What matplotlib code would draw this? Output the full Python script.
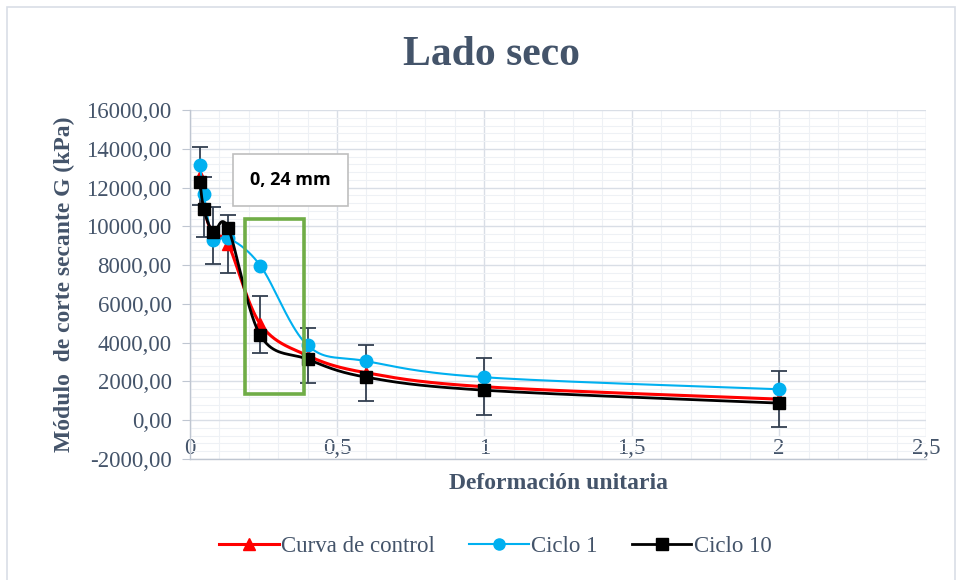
import matplotlib
matplotlib.use('Agg')
import matplotlib.pyplot as plt
import matplotlib.patches as mpatches
from matplotlib.ticker import MultipleLocator, FuncFormatter
import numpy as np

# data
x_def = [0.035, 0.048, 0.08, 0.13, 0.24, 0.40, 0.60, 1.0, 2.0]
g_control = [12600, 11000, 9550, 9100, 4950, 3330, 2440, 1720, 1080]
err_control = [1500, 1550, 1470, 1500, 1470, 1440, 1460, 1460, 1440]
g_ciclo1 = [13150, 11680, 9310, 9410, 7970, 3860, 3040, 2210, 1590]
g_ciclo10 = [12290, 10900, 9720, 9930, 4370, 3140, 2210, 1540, 875]

TXT = '#44546A'
SERIF = 'Liberation Serif'


def smooth(xs, ys, n=40):
    # Excel-like smoothed line (Catmull-Rom bezier)
    xs = np.asarray(xs, float); ys = np.asarray(ys, float)
    px, py = [], []
    m = len(xs)
    for i in range(m - 1):
        x0, y0 = (xs[i - 1], ys[i - 1]) if i > 0 else (xs[i], ys[i])
        x3, y3 = (xs[i + 2], ys[i + 2]) if i + 2 < m else (xs[i + 1], ys[i + 1])
        c1x = xs[i] + (xs[i + 1] - x0) / 6; c1y = ys[i] + (ys[i + 1] - y0) / 6
        c2x = xs[i + 1] - (x3 - xs[i]) / 6; c2y = ys[i + 1] - (y3 - ys[i]) / 6
        t = np.linspace(0, 1, n)
        bx = (1-t)**3*xs[i] + 3*(1-t)**2*t*c1x + 3*(1-t)*t**2*c2x + t**3*xs[i+1]
        by = (1-t)**3*ys[i] + 3*(1-t)**2*t*c1y + 3*(1-t)*t**2*c2y + t**3*ys[i+1]
        px.extend(bx); py.extend(by)
    return px, py


fig = plt.figure(figsize=(9.58, 5.80), dpi=100)
fig.patches.append(mpatches.Rectangle((0.007, -0.01), 0.99, 0.998, transform=fig.transFigure,
                                      fill=False, edgecolor='#D9DEE6', linewidth=1.2))
ax = fig.add_axes([0.198, 0.209, 0.769, 0.601])

ax.set_xlim(0, 2.5)
ax.set_ylim(-2000, 16000)
ax.xaxis.set_major_locator(MultipleLocator(0.5))
ax.xaxis.set_minor_locator(MultipleLocator(0.1))
ax.yaxis.set_major_locator(MultipleLocator(2000))
ax.yaxis.set_minor_locator(MultipleLocator(400))
ax.grid(which='major', color='#D9DEE6', linewidth=1.0, zorder=0)
ax.grid(which='minor', color='#EEF1F5', linewidth=0.8, zorder=0)
ax.set_axisbelow(True)

ax.xaxis.set_major_formatter(FuncFormatter(lambda v, p: ('%g' % v).replace('.', ',')))
ax.yaxis.set_major_formatter(FuncFormatter(lambda v, p: ('%.2f' % v).replace('.', ',')))

for s in ['top', 'right']:
    ax.spines[s].set_visible(False)
for s in ['left', 'bottom']:
    ax.spines[s].set_color('#BFC6D1')
    ax.spines[s].set_linewidth(1.0)

ax.tick_params(axis='y', which='major', length=6, color='#BFC6D1', labelsize=16.5, labelcolor=TXT, pad=7)
ax.tick_params(axis='y', which='minor', length=0)
ax.tick_params(axis='x', which='both', length=0, labelsize=16.5, labelcolor=TXT, pad=-15)
for lbl in ax.get_xticklabels() + ax.get_yticklabels():
    lbl.set_fontfamily(SERIF)
for lbl in ax.get_xticklabels():
    lbl.set_bbox(dict(facecolor='white', edgecolor='none', pad=0.5))

# series
sx, sy = smooth(x_def, g_control)
ax.plot(sx, sy, color='#FF0000', lw=2.2, zorder=3)
ax.errorbar(x_def, g_control, yerr=err_control, fmt='none', ecolor='#333F50', elinewidth=1.3,
            capsize=6, capthick=1.3, zorder=3.5)
ax.plot(x_def, g_control, '^', color='#FF0000', ms=8, zorder=3.6)

sx, sy = smooth(x_def, g_ciclo1)
ax.plot(sx, sy, color='#00B0F0', lw=1.5, zorder=4)
ax.plot(x_def, g_ciclo1, 'o', color='#00B0F0', ms=9, zorder=4.1)

sx, sy = smooth(x_def, g_ciclo10)
ax.plot(sx, sy, color='#000000', lw=2.0, zorder=5)
ax.plot(x_def, g_ciclo10, 's', color='#000000', ms=9, zorder=5.1)

# highlight box
ax.add_patch(mpatches.Rectangle((0.187, 1340), 0.200, 9050, fill=False, edgecolor='#70AD47',
                                linewidth=2.6, zorder=6))
ax.text(0.343, 12400, '0, 24 mm', ha='center', va='center', fontsize=13, fontweight='bold',
        family='Open Sans', color='black', zorder=7,
        bbox=dict(boxstyle='square,pad=0.95', facecolor='white', edgecolor='#BFBFBF', linewidth=1.2))

ax.set_xlabel('Deformación unitaria', fontsize=17, fontweight='bold', family=SERIF, color=TXT, labelpad=10)
ax.set_ylabel('Módulo  de corte secante G (kPa)', fontsize=17, fontweight='bold', family=SERIF,
              color=TXT, labelpad=8)
fig.text(0.513, 0.905, 'Lado seco', ha='center', va='center', fontsize=30, fontweight='bold',
         family=SERIF, color=TXT)

handles = [
    plt.Line2D([], [], color='#FF0000', lw=2.2, marker='^', ms=8),
    plt.Line2D([], [], color='#00B0F0', lw=1.5, marker='o', ms=8),
    plt.Line2D([], [], color='#000000', lw=2.0, marker='s', ms=8),
]
leg = fig.legend(handles, ['Curva de control', 'Ciclo 1', 'Ciclo 10'], loc='center',
                 bbox_to_anchor=(0.517, 0.057), ncol=3, frameon=False, handlelength=2.6,
                 handletextpad=0.1, columnspacing=1.5, prop={'family': SERIF, 'size': 16.5})
for t in leg.get_texts():
    t.set_color(TXT)

fig.savefig('out.png', dpi=100)
